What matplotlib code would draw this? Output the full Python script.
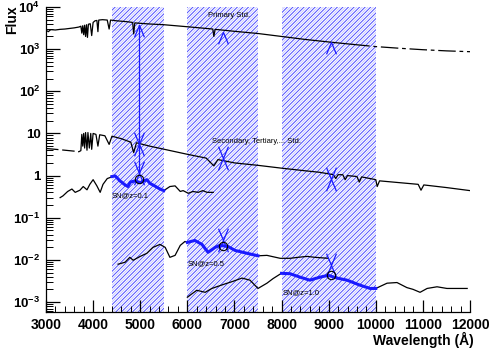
import numpy as np
import matplotlib
matplotlib.use("Agg")
import matplotlib.pyplot as plt
from matplotlib.path import Path
from matplotlib.ticker import FixedLocator, FixedFormatter, LogLocator, MultipleLocator, NullFormatter

plt.rcParams['font.family'] = ['Liberation Sans', 'DejaVu Sans']
plt.rcParams['mathtext.fontset'] = 'custom'
plt.rcParams['mathtext.rm'] = 'Liberation Sans:bold'
plt.rcParams['mathtext.bf'] = 'Liberation Sans:bold'
plt.rcParams['hatch.linewidth'] = 0.6

# ---------------- data ----------------
primary_wl = [3000, 3050, 3100, 3200, 3300, 3400, 3500, 3600, 3700, 3740, 3760, 3780, 3800, 3820, 3840,
              3860, 3880, 3900, 3940, 3970, 4000, 4040, 4080, 4102, 4120, 4200, 4300, 4340, 4370, 4500,
              4700, 4840, 4861, 4885, 5000, 5200, 5500, 6000, 6400, 6540, 6563, 6590, 7000, 7500, 8000,
              8500, 9000, 9500, 10000, 10500, 11000, 11500, 12000]
primary_flux = [2800, 2600, 2900, 2850, 2950, 3000, 3100, 3200, 3350, 3500, 2400, 3600, 2200, 3700, 2000,
                3800, 1900, 3900, 4000, 2100, 4300, 4700, 4800, 2600, 4900, 5000, 4900, 3000, 4900, 4700,
                4500, 4300, 2300, 4200, 4100, 3950, 3800, 3400, 3100, 3000, 2000, 2950, 2650, 2350, 2000,
                1700, 1480, 1300, 1150, 1050, 970, 910, 870]

secondary_wl = [3000, 3200, 3400, 3600, 3700, 3740, 3760, 3780, 3800, 3820, 3840, 3870, 3890, 3920, 3950,
                3970, 4000, 4060, 4102, 4140, 4250, 4340, 4400, 4600, 4800, 4861, 4920, 5200, 5600, 6000,
                6400, 6563, 6650, 7000, 7500, 8000, 8500, 8800, 9000, 9100, 9150, 9200, 9300, 9350, 9400,
                9600, 9650, 9700, 10000, 10030, 10080, 10500, 10900, 10960, 11020, 11500, 12000]
secondary_flux = [4.4, 4.2, 4.0, 3.8, 3.7, 3.9, 9.5, 5.0, 10.0, 4.5, 10.5, 4.0, 10.5, 4.5, 10.0,
                  4.2, 10.0, 9.5, 5.0, 9.3, 8.8, 5.5, 8.6, 7.5, 6.2, 3.5, 6.0, 5.0, 4.0, 3.2,
                  2.6, 1.7, 2.4, 2.0, 1.75, 1.5, 1.3, 1.2, 1.1, 1.05, 0.85, 1.05, 1.05, 0.8, 1.0,
                  0.95, 0.7, 0.93, 0.8, 0.55, 0.75, 0.68, 0.62, 0.45, 0.6, 0.52, 0.44]

sn01_wl = [3300, 3360, 3460, 3550, 3620, 3720, 3790, 3870, 3930, 4000, 4080, 4150, 4210, 4300, 4360,
           4400, 4470, 4570, 4680, 4740, 4790, 4890, 5000, 5140, 5210, 5270, 5420, 5500,
           5630, 5740, 5850, 5910, 6020, 6120, 6230, 6330, 6420, 6550]
sn01_flux = [0.30, 0.33, 0.42, 0.48, 0.40, 0.45, 0.55, 0.46, 0.62, 0.80, 0.57, 0.40, 0.62, 0.85, 0.90,
             0.95, 0.98, 0.75, 0.60, 0.55, 0.70, 0.75, 0.68, 0.80, 0.65, 0.60, 0.48, 0.44,
             0.55, 0.57, 0.42, 0.44, 0.38, 0.42, 0.40, 0.44, 0.40, 0.40]

sn05_wl = [4530, 4680, 4780, 4850, 5000, 5140, 5270, 5420, 5530, 5630, 5740, 5850, 5950, 6000,
           6160, 6310, 6440, 6590, 6690, 6860, 7010, 7270, 7500,
           7690, 7970, 8180, 8350, 8540, 8710, 8990]
sn05_flux = [0.0079, 0.0088, 0.0115, 0.0098, 0.0121, 0.0143, 0.0198, 0.0233, 0.0198, 0.0115, 0.0128,
             0.0221, 0.0274, 0.026, 0.0289, 0.0233, 0.0151, 0.0198, 0.0221, 0.0209, 0.0168, 0.0143,
             0.0125, 0.0128, 0.0109, 0.0109, 0.0115, 0.0121, 0.0115, 0.0109]

sn10_wl = [6000, 6200, 6380, 6520, 6760, 6970, 7160, 7330, 7500, 7690, 7820, 7970, 8000,
           8180, 8390, 8600, 8820, 8990, 9180, 9390, 9670, 9880, 10000,
           10240, 10450, 10660, 10790, 10940, 11090, 11300, 11510, 11720, 11940]
sn10_flux = [0.0013, 0.0019, 0.0017, 0.0021, 0.0026, 0.0031, 0.0037, 0.0033, 0.0021, 0.0028, 0.0036,
             0.0046, 0.0048, 0.0047, 0.0039, 0.0033, 0.0039, 0.0043, 0.0037, 0.0033, 0.0025, 0.0021,
             0.0021, 0.0028, 0.0029, 0.0022, 0.0020, 0.0017, 0.0021, 0.0023, 0.0021, 0.0021, 0.0021]

bands = [(4400, 5500), (6000, 7500), (8000, 10000)]

mark_wl = [4975, 6750, 9050]
mark_primary = [3770, 2500, 1500]
mark_secondary = [5.6, 2.6, 0.84]
mark_sn = [1.16, 0.029, 0.0074]
circle_sn = [0.84, 0.021, 0.0043]

labels = ["Primary Std.", "Secondary, Tertiary,... Std.", "SN@z=0.1", "SN@z=0.5", "SN@z=1.0"]
label_wl = [6440, 6525, 4400, 6015, 8030]
label_flux = [6400, 6.6, 0.33, 0.0083, 0.0017]

ytick_vals = [1e4, 1e3, 1e2, 10, 1, 0.1, 0.01, 0.001]
ytick_labels = [r'$10^{4}$', r'$10^{3}$', r'$10^{2}$', '10', '1', r'$10^{-1}$', r'$10^{-2}$', r'$10^{-3}$']
xtick_vals = [3000, 4000, 5000, 6000, 7000, 8000, 9000, 10000, 11000, 12000]

# ---------------- figure ----------------
fig = plt.figure(figsize=(4.91, 3.56), dpi=100)
ax = fig.add_axes([46/491, 44/356, 424/491, 305/356])
ax.set_yscale('log')
ax.set_xlim(3000, 12000)
ax.set_ylim(5.8e-4, 1.0e4)

for lo, hi in bands:
    ax.axvspan(lo, hi, facecolor='white', edgecolor='#c4c4ff', hatch='/' * 12, linewidth=0, zorder=0)
    ax.axvspan(lo, hi, facecolor='none', edgecolor='#4a4aff', hatch='/' * 6, linewidth=0, zorder=0.5)

def seg(wl, fl, lo, hi):
    wl = np.asarray(wl, float); fl = np.asarray(fl, float)
    m = (wl >= lo) & (wl <= hi)
    return wl[m], fl[m]

# standards
w, f = seg(primary_wl, primary_flux, 3000, 9600)
ax.plot(w, f, color='black', lw=0.9, zorder=3)
w, f = seg(primary_wl, primary_flux, 9500, 12000)
ax.plot(w, f, color='black', lw=0.9, ls=(0, (14, 3, 3, 3)), zorder=3)

w, f = seg(secondary_wl, secondary_flux, 3000, 3700)
ax.plot(w, f, color='black', lw=0.9, ls=(0, (10, 3)), zorder=3)
w, f = seg(secondary_wl, secondary_flux, 3700, 12000)
ax.plot(w, f, color='black', lw=0.9, zorder=3)

# supernovae: black outside bands, blue inside
for wl, fl, (lo, hi) in [(sn01_wl, sn01_flux, bands[0]), (sn05_wl, sn05_flux, bands[1]), (sn10_wl, sn10_flux, bands[2])]:
    w, f = seg(wl, fl, 0, lo)
    ax.plot(w, f, color='black', lw=0.9, zorder=3)
    w, f = seg(wl, fl, lo, hi)
    ax.plot(w, f, color='#1a1aff', lw=2.2, zorder=4)
    w, f = seg(wl, fl, hi, 20000)
    ax.plot(w, f, color='black', lw=0.9, zorder=3)

# arrows / markers
v_down = Path([(-0.42, 1.0), (0, 0), (0.42, 1.0)], [Path.MOVETO, Path.LINETO, Path.LINETO])
v_up = Path([(-0.42, -1.0), (0, 0), (0.42, -1.0)], [Path.MOVETO, Path.LINETO, Path.LINETO])
mk = dict(ls='none', markersize=17, markerfacecolor='none', markeredgecolor='#1a1aff', markeredgewidth=0.9, zorder=5)

ax.plot([mark_wl[0], mark_wl[0]], [mark_primary[0], mark_sn[0]], color='#1a1aff', lw=0.9, zorder=5)
ax.plot(mark_wl, mark_primary, marker=v_up, **mk)
ax.plot(mark_wl, mark_secondary, marker=v_down, **mk)
ax.plot(mark_wl, mark_secondary, marker=v_up, **mk)
ax.plot(mark_wl, mark_sn, marker=v_down, **mk)
ax.plot(mark_wl, mark_sn, marker=v_up, **mk)
ax.plot(mark_wl, circle_sn, ls='none', marker='o', markersize=6, markerfacecolor='none',
        markeredgecolor='black', markeredgewidth=0.8, zorder=6)

for t, x, y in zip(labels, label_wl, label_flux):
    ax.text(x, y, t, fontsize=5.5, ha='left', va='center', color='black', zorder=7)

# axes styling
for s in ['top', 'right']:
    ax.spines[s].set_visible(False)
ax.spines['left'].set_linewidth(0.9)
ax.spines['bottom'].set_linewidth(0.9)

ax.yaxis.set_major_locator(FixedLocator(ytick_vals))
ax.yaxis.set_major_formatter(FixedFormatter(ytick_labels))
ax.yaxis.set_minor_locator(LogLocator(base=10, subs=np.arange(2, 10), numticks=20))
ax.yaxis.set_minor_formatter(NullFormatter())
ax.xaxis.set_major_locator(FixedLocator(xtick_vals))
ax.xaxis.set_minor_locator(MultipleLocator(200))

ax.tick_params(axis='y', which='major', direction='in', length=10, width=0.9, pad=4, labelsize=9.5)
ax.tick_params(axis='y', which='minor', direction='in', length=5, width=0.7)
ax.tick_params(axis='x', which='major', direction='in', length=9, width=0.9, pad=4, labelsize=10)
ax.tick_params(axis='x', which='minor', direction='in', length=4, width=0.7)
for lab in ax.get_xticklabels() + ax.get_yticklabels():
    lab.set_fontweight('bold')

fig.text(12/491, 1 - 20/356, 'Flux', rotation=90, ha='center', va='center', fontsize=10, fontweight='bold')
fig.text(474/491, 1 - 340/356, 'Wavelength (Å)', ha='right', va='center', fontsize=10, fontweight='bold')

fig.savefig('out.png', dpi=100)
